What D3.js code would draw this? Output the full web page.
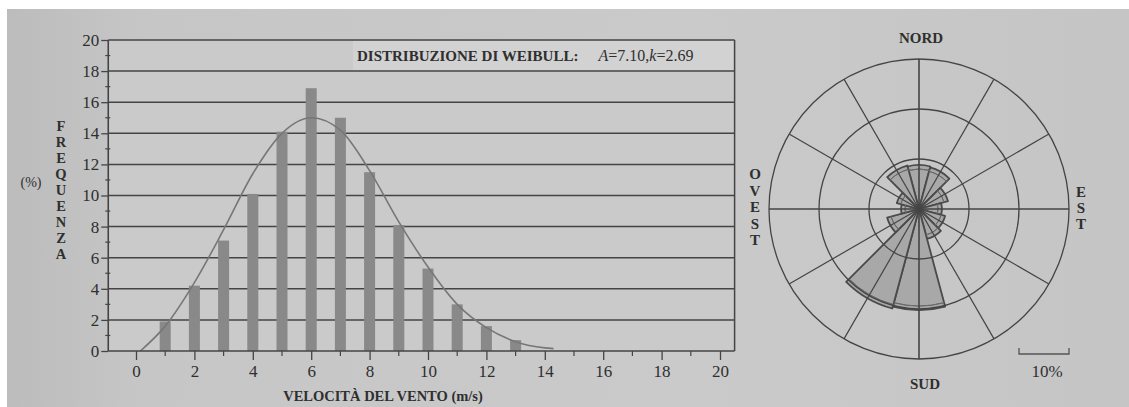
<!DOCTYPE html>
<html>
<head>
<meta charset="utf-8">
<script src="https://cdn.jsdelivr.net/npm/d3@7"></script>
<style>
  body { margin: 0; background: #fff; }
  svg text { font-family: "Liberation Serif", "Times New Roman", serif; fill: #2f2f2f; }
</style>
</head>
<body>
<svg id="chart" width="1129" height="407"></svg>
<script>
// istogramma: velocita del vento (m/s) -> frequenza (%)
var speeds = [1, 2, 3, 4, 5, 6, 7, 8, 9, 10, 11, 12, 13];
var freqs = [1.9, 4.2, 7.1, 10.1, 14.1, 16.9, 15.0, 11.5, 8.1, 5.3, 3.0, 1.6, 0.7];

// curva di Weibull
var curveSpeeds = [0.15, 1, 2, 3, 4, 5, 6, 7, 8, 9, 10, 11, 12, 13, 14, 14.3];
var curveFreqs = [0, 1.6, 4.4, 7.8, 11.4, 14.0, 15.0, 14.2, 11.6, 8.3, 5.4, 3.0, 1.5, 0.6, 0.2, 0.15];

var xTicks = [0, 2, 4, 6, 8, 10, 12, 14, 16, 18, 20];
var xMinor = [1, 3, 5, 7, 9, 11, 13, 15, 17, 19];
var yTicks = [0, 2, 4, 6, 8, 10, 12, 14, 16, 18, 20];
var yMinor = [1, 3, 5, 7, 9, 11, 13, 15, 17, 19];

// rosa dei venti: direzione (gradi) -> frequenza (%)
var roseDirs = [0, 30, 60, 90, 120, 150, 180, 210, 240, 270, 300, 330];
var roseFreqs = [8.8, 8.6, 6.0, 4.6, 5.4, 6.2, 20.2, 20.6, 6.6, 3.6, 4.6, 9.0];
var roseRings = [10, 20, 30];

var yLetters = "FREQUENZA".split("");
var westLetters = "OVEST".split("");
var eastLetters = "EST".split("");

var svg = d3.select("#chart");
var ink = "#444";

// fondo (foto della pagina)
var defs = svg.append("defs");
var grad = defs.append("linearGradient").attr("id", "paper");
grad.append("stop").attr("offset", "0%").attr("stop-color", "#bcbcbc");
grad.append("stop").attr("offset", "12%").attr("stop-color", "#c6c6c6");
grad.append("stop").attr("offset", "60%").attr("stop-color", "#cacaca");
grad.append("stop").attr("offset", "100%").attr("stop-color", "#c5c5c5");
svg.append("rect").attr("x", 7).attr("y", 9).attr("width", 1122).attr("height", 398)
  .attr("fill", "url(#paper)");

// ---------- istogramma ----------
var x = d3.scaleLinear().domain([0, 20]).range([136, 720]);
var y = d3.scaleLinear().domain([0, 20]).range([351, 40]);
var left = x(-0.95), right = x(20.5);

var plot = svg.append("g");

plot.append("rect")
  .attr("x", left).attr("y", y(20))
  .attr("width", right - left).attr("height", y(0) - y(20))
  .attr("fill", "#cacaca");

// box del titolo
plot.append("rect")
  .attr("x", 353).attr("y", y(20) + 1)
  .attr("width", right - 353 - 1).attr("height", y(18) - y(20) - 2)
  .attr("fill", "#d2d2d2");

plot.selectAll(".grid")
  .data(yTicks.filter(function(d) { return d > 0; }))
  .enter().append("line")
  .attr("class", "grid")
  .attr("x1", left).attr("x2", right)
  .attr("y1", function(d) { return y(d); })
  .attr("y2", function(d) { return y(d); })
  .attr("stroke", ink).attr("stroke-width", 1.5);

plot.append("line")
  .attr("x1", right).attr("x2", right).attr("y1", y(20)).attr("y2", y(0))
  .attr("stroke", ink).attr("stroke-width", 1.5);

plot.selectAll(".bar")
  .data(speeds)
  .enter().append("rect")
  .attr("class", "bar")
  .attr("x", function(d) { return x(d) - 5.5; })
  .attr("width", 11)
  .attr("y", function(d, i) { return y(freqs[i]); })
  .attr("height", function(d, i) { return y(0) - y(freqs[i]); })
  .attr("fill", "#898989");

var line = d3.line()
  .x(function(d, i) { return x(d); })
  .y(function(d, i) { return y(curveFreqs[i]); })
  .curve(d3.curveMonotoneX);

plot.append("path")
  .datum(curveSpeeds)
  .attr("d", line)
  .attr("fill", "none")
  .attr("stroke", "#777")
  .attr("stroke-width", 1.6);

// assi
var yAxis = d3.axisLeft(y).tickValues(yTicks).tickSize(7).tickPadding(2).tickSizeOuter(0);
var gy = plot.append("g")
  .attr("transform", "translate(" + left + ",0)")
  .call(yAxis);
gy.select(".domain").remove();
gy.attr("font-family", null).attr("font-size", 17);
gy.selectAll("line").attr("stroke", ink).attr("stroke-width", 1.3);

plot.selectAll(".ymin")
  .data(yMinor)
  .enter().append("line")
  .attr("x1", left - 3).attr("x2", left + 2)
  .attr("y1", function(d) { return y(d); })
  .attr("y2", function(d) { return y(d); })
  .attr("stroke", ink).attr("stroke-width", 1.2);

var xAxis = d3.axisBottom(x).tickValues(xTicks).tickSize(9).tickPadding(5).tickSizeOuter(0);
var gx = plot.append("g")
  .attr("transform", "translate(0," + y(0) + ")")
  .call(xAxis);
gx.select(".domain").remove();
gx.attr("font-family", null).attr("font-size", 17);
gx.selectAll("line").attr("stroke", ink).attr("stroke-width", 1.3);

plot.selectAll(".xmin")
  .data(xMinor)
  .enter().append("line")
  .attr("x1", function(d) { return x(d); })
  .attr("x2", function(d) { return x(d); })
  .attr("y1", y(0)).attr("y2", y(0) + 5)
  .attr("stroke", ink).attr("stroke-width", 1.2);

plot.append("line")
  .attr("x1", left).attr("x2", left).attr("y1", y(20)).attr("y2", y(0))
  .attr("stroke", ink).attr("stroke-width", 1.6);
plot.append("line")
  .attr("x1", left).attr("x2", right).attr("y1", y(0)).attr("y2", y(0))
  .attr("stroke", ink).attr("stroke-width", 1.6);

// titoli
var t = plot.append("text").attr("x", 357).attr("y", 61).attr("font-size", 15);
t.append("tspan").attr("font-weight", "bold").text("DISTRIBUZIONE DI WEIBULL:");
t.append("tspan").attr("dx", 20).attr("font-style", "italic").attr("font-size", 16).text("A");
t.append("tspan").attr("font-size", 16).text("=7.10,");
t.append("tspan").attr("font-style", "italic").attr("font-size", 16).text("k");
t.append("tspan").attr("font-size", 16).text("=2.69");

plot.append("text")
  .attr("x", 383).attr("y", 401)
  .attr("text-anchor", "middle")
  .attr("font-size", 14.5).attr("font-weight", "bold")
  .text("VELOCITÀ DEL VENTO (m/s)");

plot.append("text")
  .attr("x", 31).attr("y", 187)
  .attr("text-anchor", "middle")
  .attr("font-size", 14)
  .text("(%)");

plot.selectAll(".ylet")
  .data(yLetters)
  .enter().append("text")
  .attr("x", 61)
  .attr("y", function(d, i) { return 131 + i * 16; })
  .attr("text-anchor", "middle")
  .attr("font-size", 14.5).attr("font-weight", "bold")
  .text(function(d) { return d; });

// ---------- rosa dei venti ----------
var cx = 919, cy = 209;
var r = d3.scaleLinear().domain([0, 30]).range([0, 150]);
var rose = svg.append("g").attr("transform", "translate(" + cx + "," + cy + ")");

var arc = d3.arc()
  .innerRadius(0)
  .outerRadius(function(d, i) { return r(roseFreqs[i]); })
  .startAngle(function(d) { return (d - 15) * Math.PI / 180; })
  .endAngle(function(d) { return (d + 15) * Math.PI / 180; });

rose.selectAll(".sector")
  .data(roseDirs)
  .enter().append("path")
  .attr("class", "sector")
  .attr("d", function(d, i) { return arc(d, i); })
  .attr("fill", "#a8a8a8")
  .attr("stroke", "#4a4a4a")
  .attr("stroke-width", 1.8)
  .attr("stroke-linejoin", "round");

// seconda linea del bordo esterno
var rim = d3.arc()
  .innerRadius(function(d, i) { return Math.max(r(roseFreqs[i]) - 4, 0); })
  .outerRadius(function(d, i) { return Math.max(r(roseFreqs[i]) - 4, 0); })
  .startAngle(function(d) { return (d - 15) * Math.PI / 180; })
  .endAngle(function(d) { return (d + 15) * Math.PI / 180; });

rose.selectAll(".rim")
  .data(roseDirs)
  .enter().append("path")
  .attr("d", function(d, i) { return rim(d, i); })
  .attr("fill", "none")
  .attr("stroke", "#6a6a6a")
  .attr("stroke-width", 1);

rose.selectAll(".ring")
  .data(roseRings)
  .enter().append("circle")
  .attr("r", function(d) { return r(d); })
  .attr("fill", "none")
  .attr("stroke", ink).attr("stroke-width", 1.3);

rose.selectAll(".spoke")
  .data(roseDirs)
  .enter().append("line")
  .attr("x1", 0).attr("y1", 0)
  .attr("x2", function(d) { return r(30) * Math.sin(d * Math.PI / 180); })
  .attr("y2", function(d) { return -r(30) * Math.cos(d * Math.PI / 180); })
  .attr("stroke", ink)
  .attr("stroke-width", function(d) { return d % 90 == 0 ? 1.6 : 1.2; });

svg.append("text").attr("x", cx + 2).attr("y", 43)
  .attr("text-anchor", "middle").attr("font-size", 15).attr("font-weight", "bold")
  .text("NORD");
svg.append("text").attr("x", cx + 6).attr("y", 389)
  .attr("text-anchor", "middle").attr("font-size", 15).attr("font-weight", "bold")
  .text("SUD");

svg.selectAll(".west")
  .data(westLetters)
  .enter().append("text")
  .attr("x", 755)
  .attr("y", function(d, i) { return 179 + i * 16.5; })
  .attr("text-anchor", "middle")
  .attr("font-size", 15).attr("font-weight", "bold")
  .text(function(d) { return d; });

svg.selectAll(".east")
  .data(eastLetters)
  .enter().append("text")
  .attr("x", 1081)
  .attr("y", function(d, i) { return 197 + i * 16; })
  .attr("text-anchor", "middle")
  .attr("font-size", 15).attr("font-weight", "bold")
  .text(function(d) { return d; });

// scala 10%
var sx = 1019;
var scale = svg.append("g");
scale.append("path")
  .attr("d", "M" + sx + ",348V354H" + (sx + r(10)) + "V348")
  .attr("fill", "none").attr("stroke", "#555").attr("stroke-width", 1.3);
scale.append("text")
  .attr("x", sx + r(10) / 2 + 3).attr("y", 377)
  .attr("text-anchor", "middle").attr("font-size", 17)
  .text("10%");
</script>
</body>
</html>
